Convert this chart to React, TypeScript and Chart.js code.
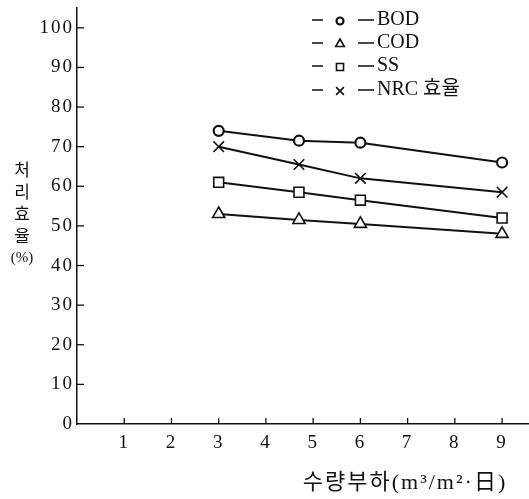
import React, { useEffect, useRef } from 'react';
import { Chart, registerables } from 'chart.js';
import { drawPoint } from 'chart.js/helpers';

Chart.register(...registerables);

// ---- data ----
const loads = [3, 4.7, 6, 9];
const bod = [74, 71.5, 71, 66];
const cod = [53, 51.5, 50.5, 48];
const ss = [61, 58.5, 56.5, 52];
const nrc = [70, 65.5, 62, 58.5];
const seriesNames = ['BOD', 'COD', 'SS', 'NRC 효율'];
const xTicks = [1, 2, 3, 4, 5, 6, 7, 8, 9];
const yTicks = [0, 10, 20, 30, 40, 50, 60, 70, 80, 90, 100];
const xTitle = '수량부하(m³/m²·日)';
const yTitleChars = ['처', '리', '효', '율', '(%)'];

const INK = '#111';
const SERIF = '"Liberation Serif", "Noto Sans CJK KR", serif';

const styles = [
  { pointStyle: 'circle', radius: 5, legendRadius: 3.5, bw: 2.2 },
  { pointStyle: 'triangle', radius: 7, legendRadius: 5, bw: 1.6 },
  { pointStyle: 'rect', radius: 7, legendRadius: 5, bw: 1.6 },
  { pointStyle: 'crossRot', radius: 7.5, legendRadius: 5.5, bw: 1.6 },
];
const seriesValues = [bod, cod, ss, nrc];

const spacing = {
  id: 'spacing',
  beforeDraw(chart: any) {
    (chart.ctx as any).letterSpacing = '2px';
  },
  afterDraw(chart: any) {
    (chart.ctx as any).letterSpacing = '0px';
  },
};

const decor = {
  id: 'decor',
  afterDraw(chart: any) {
    const ctx = chart.ctx as CanvasRenderingContext2D;
    const xs = chart.scales.x;
    const ys = chart.scales.y;
    const area = chart.chartArea;
    ctx.save();
    (ctx as any).letterSpacing = '0px';
    ctx.strokeStyle = INK;
    ctx.lineWidth = 1.3;
    // inward tick marks
    xTicks.forEach((v) => {
      const px = xs.getPixelForValue(v);
      ctx.beginPath();
      ctx.moveTo(px, area.bottom);
      ctx.lineTo(px, area.bottom - 6);
      ctx.stroke();
    });
    yTicks.forEach((v) => {
      if (v === 0) return;
      const py = ys.getPixelForValue(v);
      ctx.beginPath();
      ctx.moveTo(area.left, py);
      ctx.lineTo(area.left + 7, py);
      ctx.stroke();
    });

    ctx.fillStyle = INK;
    // y title (stacked)
    ctx.textAlign = 'center';
    ctx.textBaseline = 'middle';
    yTitleChars.forEach((c, i) => {
      ctx.font = i < 4 ? '17px "Noto Sans CJK KR"' : '15px ' + SERIF;
      ctx.fillText(c, 22, 170 + i * 22);
    });

    // x title
    ctx.font = '22px ' + SERIF;
    (ctx as any).letterSpacing = '2px';
    ctx.textAlign = 'center';
    ctx.fillText(xTitle, 405, 483);
    (ctx as any).letterSpacing = '0px';

    // legend
    const rows = [20, 43, 66, 90];
    seriesNames.forEach((name, i) => {
      const y = rows[i];
      ctx.strokeStyle = INK;
      ctx.lineWidth = 1.3;
      ctx.beginPath();
      ctx.moveTo(312, y);
      ctx.lineTo(323, y);
      ctx.moveTo(358, y);
      ctx.lineTo(374, y);
      ctx.stroke();
      ctx.fillStyle = '#fff';
      ctx.lineWidth = styles[i].bw;
      drawPoint(ctx, {
        pointStyle: styles[i].pointStyle,
        radius: styles[i].legendRadius,
        rotation: 0,
        borderWidth: styles[i].bw,
      } as any, 340, y + 1);
      ctx.fillStyle = INK;
      ctx.font = '20px ' + SERIF;
      ctx.textAlign = 'left';
      ctx.textBaseline = 'middle';
      ctx.fillText(name, 377, y);
    });
    ctx.restore();
  },
};

export default function App() {
  const ref = useRef<HTMLCanvasElement | null>(null);

  useEffect(() => {
    if (!ref.current) return;
    document.body.style.margin = '0';
    const datasets = seriesNames.map((name, i) => ({
      label: name,
      data: loads.map((x, j) => ({ x, y: seriesValues[i][j] })),
      borderColor: INK,
      borderWidth: 2,
      pointStyle: styles[i].pointStyle,
      pointRadius: styles[i].radius,
      pointBorderWidth: styles[i].bw,
      pointBackgroundColor: '#fff',
      pointBorderColor: INK,
      tension: 0,
      fill: false,
    }));
    const chart = new Chart(ref.current, {
      type: 'line',
      data: { datasets },
      options: {
        animation: false,
        responsive: false,
        maintainAspectRatio: false,
        layout: { autoPadding: false, padding: { top: 8, right: 0, left: 0, bottom: 0 } },
        plugins: { legend: { display: false }, tooltip: { enabled: false } },
        scales: {
          x: {
            type: 'linear',
            min: 0,
            max: 9.57,
            afterBuildTicks: (s: any) => {
              s.ticks = xTicks.map((v) => ({ value: v }));
            },
            afterFit: (s: any) => {
              s.height = 75;
              s.paddingLeft = 0;
              s.paddingRight = 0;
            },
            grid: { display: false, drawTicks: false },
            border: { display: true, color: INK, width: 1.5 },
            ticks: {
              color: INK,
              font: { family: SERIF, size: 19 },
              padding: 8,
              maxRotation: 0,
              autoSkip: false,
            },
          },
          y: {
            type: 'linear',
            min: 0,
            max: 105,
            afterBuildTicks: (s: any) => {
              s.ticks = yTicks.map((v) => ({ value: v }));
            },
            afterFit: (s: any) => {
              s.width = 77;
              s.paddingTop = 0;
              s.paddingBottom = 0;
            },
            grid: { display: false, drawTicks: false },
            border: { display: true, color: INK, width: 1.5 },
            ticks: {
              color: INK,
              font: { family: SERIF, size: 19 },
              padding: 3,
              autoSkip: false,
            },
          },
        },
      },
      plugins: [spacing, decor],
    } as any);
    return () => chart.destroy();
  }, []);

  return (
    <div style={{ position: 'absolute', left: 0, top: 0, width: 529, height: 499 }}>
      <canvas ref={ref} width={529} height={499} style={{ width: 529, height: 499 }} />
    </div>
  );
}
